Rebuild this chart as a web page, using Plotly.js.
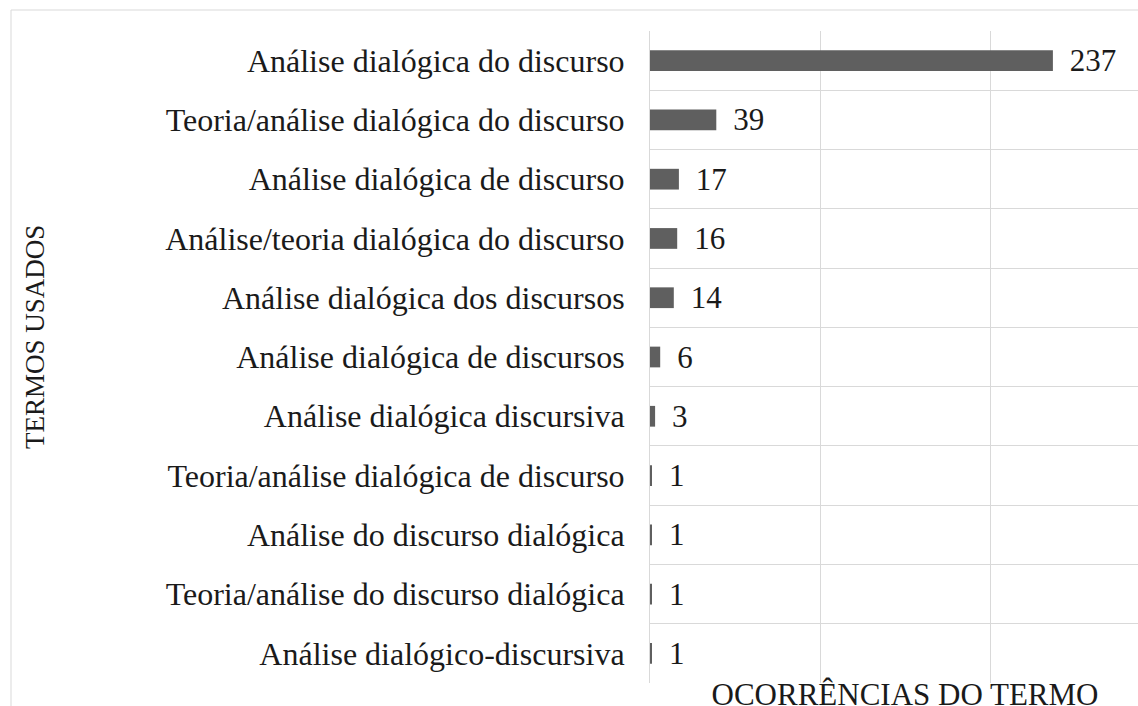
<!DOCTYPE html>
<html>
<head>
<meta charset="utf-8">
<script src="https://cdn.plot.ly/plotly-3.0.1.min.js"></script>
<style>
  html, body { margin: 0; padding: 0; overflow: hidden; background: #ffffff; }
  #chart { width: 1162px; height: 740px; }
</style>
</head>
<body>
<div id="chart"></div>
<script>
const categories = [
  "Análise dialógica do discurso",
  "Teoria/análise dialógica do discurso",
  "Análise dialógica de discurso",
  "Análise/teoria dialógica do discurso",
  "Análise dialógica dos discursos",
  "Análise dialógica de discursos",
  "Análise dialógica discursiva",
  "Teoria/análise dialógica de discurso",
  "Análise do discurso dialógica",
  "Teoria/análise do discurso dialógica",
  "Análise dialógico-discursiva"
];
const occurrences = [237, 39, 17, 16, 14, 6, 3, 1, 1, 1, 1];
const xTickValues = [0, 100, 200, 300];
const xTitle = "OCORRÊNCIAS DO TERMO";
const yTitle = "TERMOS USADOS";

const W = 1162, H = 740;
const M = { l: 650, r: 2, t: 31, b: 57 };
const plotW = W - M.l - M.r, plotH = H - M.t - M.b;
const fontFamily = "Liberation Serif, Times New Roman, serif";

const trace = {
  type: "bar",
  orientation: "h",
  x: occurrences,
  y: categories,
  marker: { color: "#5f5f5f" },
  text: occurrences.map(v => "\u00a0\u2009" + v),
  textposition: "outside",
  constraintext: "none",
  cliponaxis: false,
  textfont: { family: fontFamily, size: 31, color: "#1a1a1a" },
  hoverinfo: "x+y"
};

const layout = {
  width: W,
  height: H,
  margin: M,
  paper_bgcolor: "#ffffff",
  plot_bgcolor: "#ffffff",
  showlegend: false,
  bargap: 0.65,
  font: { family: fontFamily, size: 32, color: "#1a1a1a" },
  xaxis: {
    range: [0, xTickValues[xTickValues.length - 1]],
    tickvals: xTickValues,
    showticklabels: false,
    showgrid: true,
    gridcolor: "#d9d9d9",
    gridwidth: 1,
    zeroline: false,
    showline: false,
    ticks: "",
    fixedrange: true,
    title: { text: xTitle, font: { family: fontFamily, size: 31, color: "#1a1a1a" }, standoff: 0 }
  },
  yaxis: {
    type: "category",
    autorange: "reversed",
    tickson: "boundaries",
    showgrid: true,
    gridcolor: "#d9d9d9",
    gridwidth: 1,
    showline: true,
    linecolor: "#d9d9d9",
    linewidth: 1,
    zeroline: false,
    ticks: "",
    ticklabelstandoff: 18,
    tickfont: { family: fontFamily, size: 32, color: "#1a1a1a" },
    fixedrange: true
  },
  annotations: [{
    text: yTitle,
    xref: "paper", yref: "paper",
    x: (35 - M.l) / plotW,
    y: 1 - (337 - M.t) / plotH,
    xanchor: "center", yanchor: "middle",
    textangle: -90,
    showarrow: false,
    font: { family: fontFamily, size: 27, color: "#1a1a1a" }
  }],
  shapes: [{
    type: "rect",
    xref: "paper", yref: "paper",
    x0: -(M.l - 11) / plotW, x1: 2,
    y0: -1, y1: 1 + (M.t - 10) / plotH,
    line: { color: "#d9d9d9", width: 1 },
    fillcolor: "rgba(0,0,0,0)",
    layer: "below"
  }]
};

Plotly.newPlot("chart", [trace], layout, { displayModeBar: false });
</script>
</body>
</html>
